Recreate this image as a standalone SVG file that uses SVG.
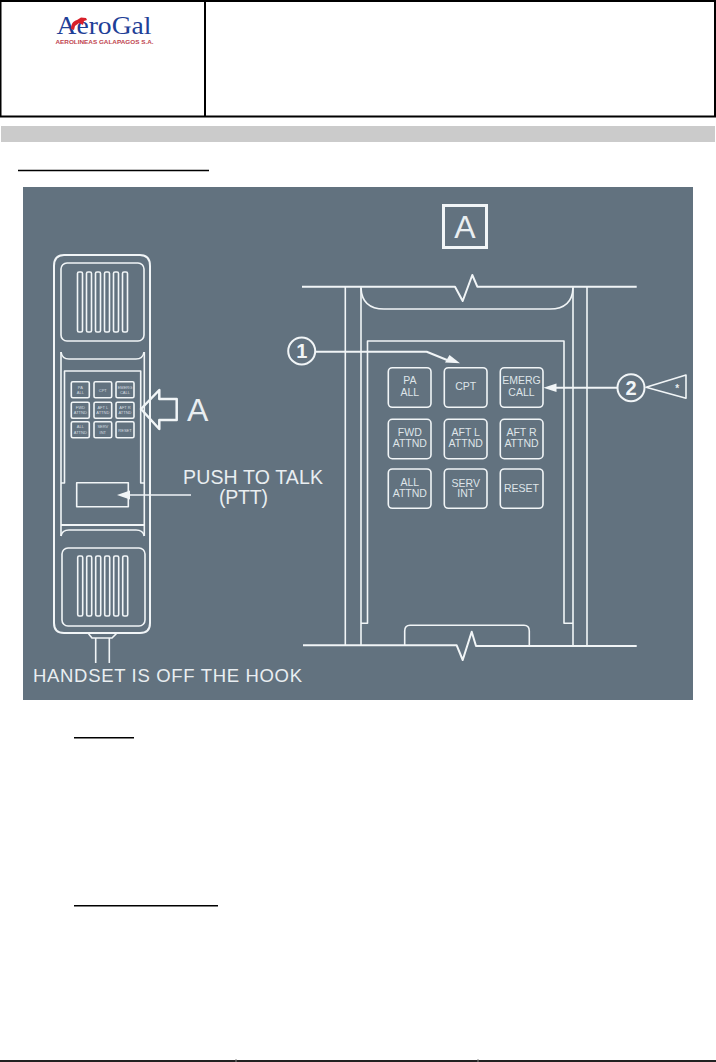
<svg xmlns="http://www.w3.org/2000/svg" width="716" height="1062" viewBox="0 0 716 1062">
<style>
.l{fill:none;stroke:#f1f5f7;stroke-width:1.6;stroke-linejoin:round}
.t{stroke-width:2}
.w{fill:#f1f5f7;stroke:none}
text{font-family:"Liberation Sans",Arial,sans-serif;fill:#e9eef1}
.k{font-size:10.5px;text-anchor:middle;fill:#dfe5e9}
.s{font-size:4px;text-anchor:middle;fill:#d5dce0}
.b{font-size:19.5px}
.n{font-size:20px;font-weight:bold;text-anchor:middle;fill:#f1f5f7}
.c{fill:#62727f;stroke:#f1f5f7;stroke-width:2}
.rule{fill:none;stroke:#000;stroke-width:1.6}
</style>
<rect width="716" height="1062" fill="#fff"/>
<g id="header">
<rect x="0.5" y="1" width="714.5" height="115.5" fill="#fff" stroke="#000" stroke-width="2"/>
<line x1="205" y1="1" x2="205" y2="116" stroke="#000" stroke-width="2"/>
<text x="56.500" y="34" style="font-family:'Liberation Serif',serif;font-size:26px;fill:#1f3f97" textLength="95" lengthAdjust="spacingAndGlyphs">AeroGal</text>
<path d="M71 29C71 24 73 21 77 20L81 17.500L86 18L87 20L84 21L83 25L79 23L75 26L74 30Z" fill="#d8202a"/>
<text x="55.500" y="44.300" style="font-size:5px;font-weight:bold;fill:#bf4650" textLength="98" lengthAdjust="spacingAndGlyphs">AEROLINEAS GALAPAGOS S.A.</text>
</g>
<rect id="band" x="1" y="126" width="714" height="16" fill="#cbcbcb"/>
<line class="rule" x1="18" y1="170.500" x2="209" y2="170.500"/>
<rect id="panel" x="23" y="187" width="670" height="513" fill="#62727f"/>
<g id="handset">
<path class="l t" d="M54 266Q54 255 64 255H140Q150 255 150 266V623Q150 633 140 633H64Q54 633 54 623Z"/>
<rect class="l" x="61" y="263" width="83" height="78" rx="6"/>
<g id="upper-slots" class="l"><rect x="77.500" y="272" width="5" height="60" rx="1.500"/><rect x="86.500" y="272" width="5" height="60" rx="1.500"/><rect x="95.500" y="272" width="5" height="60" rx="1.500"/><rect x="104.500" y="272" width="5" height="60" rx="1.500"/><rect x="113.500" y="272" width="5" height="60" rx="1.500"/><rect x="122.500" y="272" width="5" height="60" rx="1.500"/></g>
<path class="l" d="M61 352Q62 359 69 359H136Q143 359 144 352"/>
<path class="l" d="M61 352V536M144.300 352V536"/>
<path class="l" d="M61 483H64.500V371H140.700V483H144.300"/>
<path class="l t" d="M61 525H144.300"/>
<path class="l" d="M61 536Q62 530 69 530H136Q143 530 144.300 536"/>
<rect class="l" x="62" y="548" width="83" height="78" rx="6"/>
<g id="lower-slots" class="l"><rect x="77.700" y="556" width="5" height="60" rx="1.500"/><rect x="86.700" y="556" width="5" height="60" rx="1.500"/><rect x="95.700" y="556" width="5" height="60" rx="1.500"/><rect x="104.700" y="556" width="5" height="60" rx="1.500"/><rect x="113.700" y="556" width="5" height="60" rx="1.500"/><rect x="122.700" y="556" width="5" height="60" rx="1.500"/></g>
<path class="l" d="M88 633L92 638H112L117 633M95.700 638V663M109.300 638V663"/>
<g id="small-keys">
<rect class="l" x="71.300" y="381.700" width="18" height="16" rx="1.500"/><rect class="l" x="94" y="381.700" width="17.700" height="16" rx="1.500"/><rect class="l" x="116" y="381.700" width="18" height="16" rx="1.500"/>
<rect class="l" x="71.300" y="402.300" width="18" height="16" rx="1.500"/><rect class="l" x="94" y="402.300" width="17.700" height="16" rx="1.500"/><rect class="l" x="116" y="402.300" width="18" height="16" rx="1.500"/>
<rect class="l" x="71.300" y="421.700" width="18" height="16" rx="1.500"/><rect class="l" x="94" y="421.700" width="17.700" height="16" rx="1.500"/><rect class="l" x="116" y="421.700" width="18" height="16" rx="1.500"/>
<text class="s" x="80.300" y="388.500">PA</text><text class="s" x="80.300" y="393.500">ALL</text><text class="s" x="102.800" y="391.500">CPT</text><text class="s" x="125" y="388.500">EMERG</text><text class="s" x="125" y="393.500">CALL</text>
<text class="s" x="80.300" y="408.500">FWD</text><text class="s" x="80.300" y="414">ATTND</text><text class="s" x="102.800" y="408.500">AFT L</text><text class="s" x="102.800" y="414">ATTND</text><text class="s" x="125" y="408.500">AFT R</text><text class="s" x="125" y="414">ATTND</text>
<text class="s" x="80.300" y="428">ALL</text><text class="s" x="80.300" y="433.500">ATTND</text><text class="s" x="102.800" y="428">SERV</text><text class="s" x="102.800" y="433.500">INT</text><text class="s" x="125" y="431.500">RESET</text>
</g>
<rect class="l" x="76.700" y="482.700" width="51.600" height="24"/>
</g>
<g id="callout-A">
<path class="l" style="stroke-width:2.500" d="M141 409L159.300 390V399H176.700V420H159.300V429Z"/>
<text x="187" y="421" style="font-size:32px">A</text>
</g>
<g id="ptt-label">
<text class="b" x="183" y="484" textLength="140">PUSH TO TALK</text>
<text class="b" x="219" y="504" textLength="49">(PTT)</text>
</g>
<text id="handset-label" x="33" y="682" style="font-size:18.500px" textLength="269">HANDSET IS OFF THE HOOK</text>
<g id="view-A">
<rect x="443.500" y="205.500" width="43" height="42" fill="none" stroke="#f1f5f7" stroke-width="3"/>
<text x="464.800" y="238.300" style="font-size:32px;text-anchor:middle">A</text>
</g>
<g id="panel-detail">
<path class="l t" d="M302 286.700H455L462.700 301L472.300 275L477.300 286.700H636.700"/>
<path class="l t" d="M303 645.300H456.700L462.700 660L471.700 631.700L476 646H636.700"/>
<path class="l" d="M345.300 286.700V645.300M361 286.700V645.300M573 286.700V646M587 286.700V646"/>
<path class="l" d="M361 288Q362 309 384 309H550Q572 309 573 288"/>
<path class="l" d="M361 623.300H367.500V341H564V623.300H573"/>
<path class="l" d="M404.700 645.500V631Q404.700 625.300 410 625.300H524Q529.300 625.300 529.300 631V646"/>
</g>
<g id="key-pa-all"><rect class="l" x="388.300" y="367.700" width="42.700" height="39.600" rx="4"/><text class="k" x="409.800" y="384.300">PA</text><text class="k" x="409.800" y="395.700">ALL</text></g>
<g id="key-cpt"><rect class="l" x="444.300" y="367.700" width="42.700" height="39.600" rx="4"/><text class="k" x="465.700" y="390">CPT</text></g>
<g id="key-emerg-call"><rect class="l" x="500.300" y="367.700" width="42.700" height="39.600" rx="4"/><text class="k" x="521.500" y="384.300">EMERG</text><text class="k" x="521.500" y="395.700">CALL</text></g>
<g id="key-fwd-attnd"><rect class="l" x="388.300" y="419.300" width="42.700" height="39.400" rx="4"/><text class="k" x="409.800" y="436">FWD</text><text class="k" x="409.800" y="446.700">ATTND</text></g>
<g id="key-aft-l-attnd"><rect class="l" x="444.300" y="419.300" width="42.700" height="39.400" rx="4"/><text class="k" x="465.700" y="436">AFT L</text><text class="k" x="465.700" y="446.700">ATTND</text></g>
<g id="key-aft-r-attnd"><rect class="l" x="500.300" y="419.300" width="42.700" height="39.400" rx="4"/><text class="k" x="521.500" y="436">AFT R</text><text class="k" x="521.500" y="446.700">ATTND</text></g>
<g id="key-all-attnd"><rect class="l" x="388.300" y="469" width="42.700" height="39.300" rx="4"/><text class="k" x="409.800" y="485.700">ALL</text><text class="k" x="409.800" y="497.300">ATTND</text></g>
<g id="key-serv-int"><rect class="l" x="444.300" y="469" width="42.700" height="39.300" rx="4"/><text class="k" x="465.700" y="486.700">SERV</text><text class="k" x="465.700" y="497.300">INT</text></g>
<g id="key-reset"><rect class="l" x="500.300" y="469" width="42.700" height="39.300" rx="4"/><text class="k" x="521.500" y="492">RESET</text></g>
<g id="connectors">
<path class="l" d="M191 495H130"/><path class="w" d="M117 495L130 490.500V499.500Z"/>
<path class="l t" d="M315 351.700H426.700L447 360"/><path class="w" d="M460 363.300L445 362.500L449.500 355Z"/>
<path class="l t" d="M617.700 387.700H556"/><path class="w" d="M543.300 387.700L556.500 383.500V392Z"/>
</g>
<g id="marker-1"><circle class="c" cx="301.700" cy="351" r="13.500"/><text class="n" x="301.700" y="358">1</text></g>
<g id="marker-2"><circle class="c" cx="631" cy="387.700" r="13.500"/><text class="n" x="631" y="394.700">2</text>
<path class="l" d="M646 387.300L686 375V398.300Z"/><text x="677.300" y="392" style="font-size:10px;font-weight:bold;text-anchor:middle">*</text></g>
<g id="rules">
<line class="rule" x1="74" y1="737.700" x2="134" y2="737.700"/>
<line class="rule" x1="74" y1="905.700" x2="218" y2="905.700"/>
<line x1="0" y1="1061" x2="716" y2="1061" stroke="#222" stroke-width="2"/>
<line x1="236" y1="1059" x2="236" y2="1062" stroke="#888"/><line x1="478" y1="1059" x2="478" y2="1062" stroke="#888"/>
</g>
</svg>
